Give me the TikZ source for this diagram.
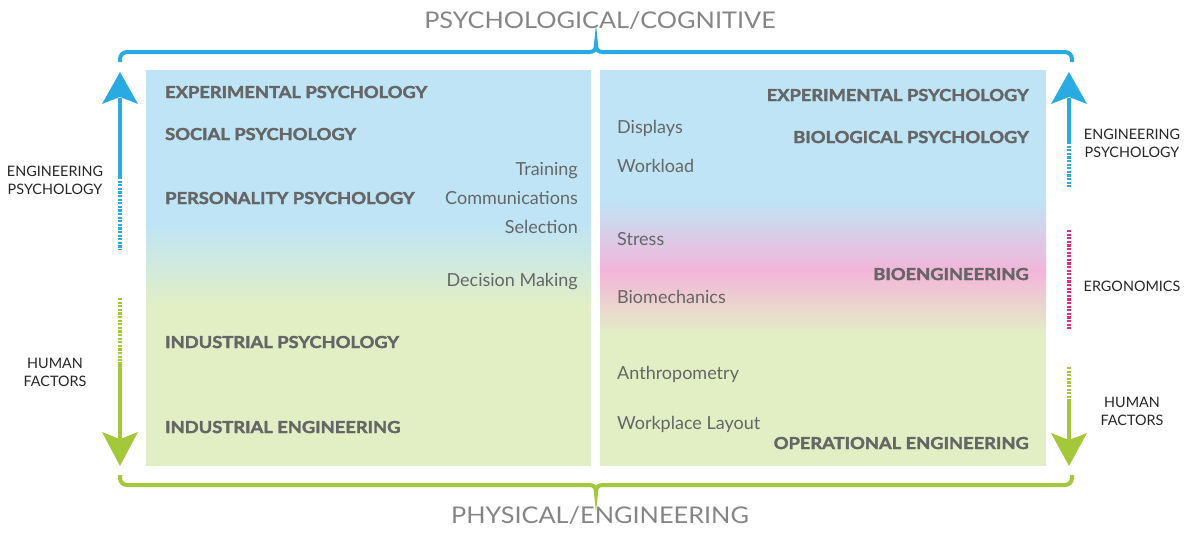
\documentclass[tikz,border=0pt]{standalone}
\usepackage{fontspec}
\setmainfont{Lato}
\newfontfamily\heavyfont{Lato}[BoldFeatures={FakeStretch=1.11,FakeBold=2.2}]
\newfontfamily\widefont{Lato}[FakeStretch=1.1]
\definecolor{pblue}{HTML}{BEE4F5}
\definecolor{pgreen}{HTML}{E2EFC5}
\definecolor{ppink}{HTML}{F3B5D9}
\definecolor{ablue}{HTML}{29ABE2}
\definecolor{agreen}{HTML}{A3C93A}
\definecolor{apink}{HTML}{E5287F}
\definecolor{tgray}{HTML}{666666}
\definecolor{lgray}{HTML}{858585}
\tikzset{
  bl/.style={inner sep=0pt,text=tgray,font=\heavyfont\fontsize{16.5}{18}\selectfont\bfseries},
  rg/.style={inner sep=0pt,text=tgray,font=\fontsize{18}{20}\selectfont},
  side/.style={inner sep=0pt,text=black!85,align=center,font=\fontsize{14.4}{18}\selectfont},
  axis/.style={inner sep=0pt,text=lgray,font=\widefont\fontsize{23}{26}\selectfont},
  solidline/.style={line width=4pt},
  dotline/.style={line width=4pt,dash pattern=on 2.2pt off 1.4pt},
  brace/.style={line width=4pt,rounded corners=7pt}
}
\begin{document}
\begin{tikzpicture}[x=1pt,y=-1pt]
\useasboundingbox (0,0) rectangle (1200,536);
% panels
\fill[pblue] (146,70) rectangle (591,225);
\shade[top color=pblue,bottom color=pgreen] (146,224) rectangle (591,306);
\fill[pgreen] (146,305) rectangle (591,466);
\fill[pblue] (600,70) rectangle (1046,200);
\shade[top color=pblue,bottom color=ppink] (600,199) rectangle (1046,272);
\shade[top color=ppink,bottom color=pgreen] (600,271) rectangle (1046,335);
\fill[pgreen] (600,334) rectangle (1046,466);
% braces
\draw[ablue,brace] (120,62) -- (120,52) -- (586,52);
\draw[ablue,line width=4pt] (585,52) -- (589,52) .. controls (594,52) and (596,50) .. (596,44) .. controls (596,50) and (598,52) .. (603,52) -- (607,52);
\draw[ablue,brace] (606,52) -- (1072,52) -- (1072,62);
\draw[agreen,brace] (120,475) -- (120,485) -- (586,485);
\draw[agreen,line width=4pt] (585,485) -- (589,485) .. controls (594,485) and (596,487) .. (596,493) .. controls (596,487) and (598,485) .. (603,485) -- (607,485);
\draw[agreen,brace] (606,485) -- (1072,485) -- (1072,475);
% axis labels
\node[axis,anchor=base] (top) at (600,28) {PSYCHOLOGICAL/COGNITIVE};
\node[axis,anchor=base] (bot) at (600,523) {PHYSICAL/ENGINEERING};
% left arrow
\coordinate (lt) at (120,72);
\coordinate (lb) at (120,466);
\fill[ablue] (lt) -- (138,104) -- (120,97) -- (102,104) -- cycle;
\draw[ablue,solidline] (120,98) -- (120,177);
\draw[ablue,dotline] (120,177) -- (120,250);
\draw[agreen,dotline] (120,298) -- (120,362);
\draw[agreen,solidline] (120,362) -- (120,440);
\fill[agreen] (lb) -- (138,432) -- (120,439) -- (102,432) -- cycle;
% right arrow
\coordinate (rt) at (1069,72);
\coordinate (rb) at (1069,466);
\fill[ablue] (rt) -- (1087,104) -- (1069,97) -- (1051,104) -- cycle;
\draw[ablue,solidline] (1069,98) -- (1069,142);
\draw[ablue,dotline] (1069,142) -- (1069,187);
\draw[apink,dotline] (1069,230) -- (1069,330);
\draw[agreen,dotline] (1069,367) -- (1069,402);
\draw[agreen,solidline] (1069,402) -- (1069,440);
\fill[agreen] (rb) -- (1087,433) -- (1069,440) -- (1051,433) -- cycle;
% side labels
\node[side] (lep) at (55,180) {ENGINEERING\\PSYCHOLOGY};
\node[side] (lhf) at (55,372) {HUMAN\\FACTORS};
\node[side] (rep) at (1132,143) {ENGINEERING\\PSYCHOLOGY};
\node[side,anchor=base] (rer) at (1132,291) {ERGONOMICS};
\node[side] (rhf) at (1132,411) {HUMAN\\FACTORS};
% left panel texts
\node[bl,anchor=base west] (l1) at (165,98) {EXPERIMENTAL PSYCHOLOGY};
\node[bl,anchor=base west] (l2) at (165,140) {SOCIAL PSYCHOLOGY};
\node[bl,anchor=base west] (l3) at (165,204) {PERSONALITY PSYCHOLOGY};
\node[bl,anchor=base west] (l4) at (165,348) {INDUSTRIAL PSYCHOLOGY};
\node[bl,anchor=base west] (l5) at (165,433) {INDUSTRIAL ENGINEERING};
\node[rg,anchor=base east] (l6) at (578,175) {Training};
\node[rg,anchor=base east] (l7) at (578,204) {Communications};
\node[rg,anchor=base east] (l8) at (578,233) {Selection};
\node[rg,anchor=base east] (l9) at (578,286) {Decision Making};
% right panel texts
\node[bl,anchor=base east] (r1) at (1029,101) {EXPERIMENTAL PSYCHOLOGY};
\node[bl,anchor=base east] (r2) at (1029,143) {BIOLOGICAL PSYCHOLOGY};
\node[bl,anchor=base east] (r3) at (1029,280) {BIOENGINEERING};
\node[bl,anchor=base east] (r4) at (1029,449) {OPERATIONAL ENGINEERING};
\node[rg,anchor=base west] (r5) at (617,133) {Displays};
\node[rg,anchor=base west] (r6) at (617,172) {Workload};
\node[rg,anchor=base west] (r7) at (617,245) {Stress};
\node[rg,anchor=base west] (r8) at (617,303) {Biomechanics};
\node[rg,anchor=base west] (r9) at (617,379) {Anthropometry};
\node[rg,anchor=base west] (r10) at (617,429) {Workplace Layout};
\end{tikzpicture}
\end{document}
